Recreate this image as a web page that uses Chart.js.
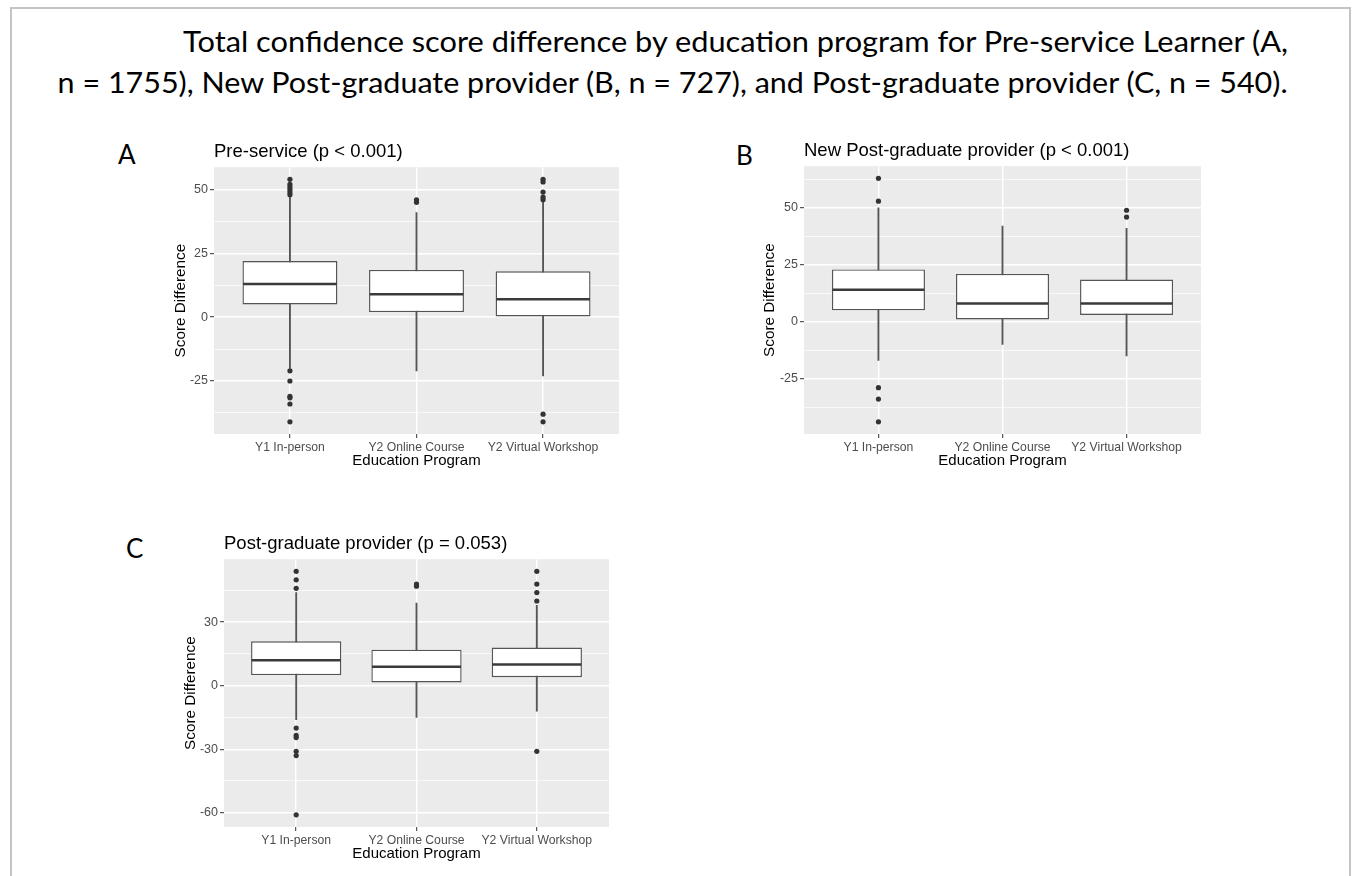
<!DOCTYPE html>
<html>
<head>
<meta charset="utf-8">
<script src="https://cdn.jsdelivr.net/npm/chart.js@4.4.1/dist/chart.umd.min.js"></script>
<style>
  body { margin: 0; width: 1352px; height: 876px; background: #fff; overflow: hidden; position: relative; }
  #frame { position: absolute; left: 10px; top: 7px; width: 1341px; height: 900px; border: 2px solid #c4c4c4; box-sizing: border-box; }
  #heading { position: absolute; right: 64px; top: 20px; text-align: right; font-family: Lato, sans-serif; font-size: 29.5px; line-height: 41px; color: #000; white-space: nowrap; }
  #heading span { display: inline-block; transform-origin: right top; }
  .tag { position: absolute; font-family: Lato, sans-serif; font-size: 26px; line-height: 26px; color: #000; }
  canvas { position: absolute; }
</style>
</head>
<body>
<div id="frame"></div>
<div id="heading">
  <div><span>Total confidence score difference by education program for Pre-service Learner (A,</span></div>
  <div><span>n = 1755), New Post-graduate provider (B, n = 727), and Post-graduate provider (C, n = 540).</span></div>
</div>
<div class="tag" style="left:118px; top:141px;">A</div>
<div class="tag" style="left:736px; top:142px;">B</div>
<div class="tag" style="left:126px; top:535px;">C</div>
<canvas id="chartA"></canvas>
<canvas id="chartB"></canvas>
<canvas id="chartC"></canvas>
<script>
// categories
const programs = ['Y1 In-person', 'Y2 Online Course', 'Y2 Virtual Workshop'];

// A: pre-service
const aLow = [-20, -21, -23];
const aQ1 = [5, 2, 0];
const aMedian = [13, 9, 7];
const aQ3 = [22, 18.5, 18];
const aHigh = [47, 41, 45];
const aOutliers = [
  [-41, -34, -31.6, -31, -25, -21, 48, 49, 50, 51, 52, 54],
  [45, 46],
  [-41, -38, 46, 47, 49, 53, 54]
];
const aTicks = [-25, 0, 25, 50];

// B: new post-graduate provider
const bLow = [-17, -10, -15];
const bQ1 = [5, 1, 3];
const bMedian = [14, 8, 8];
const bQ3 = [23, 21, 18.5];
const bHigh = [50, 42, 41];
const bOutliers = [
  [-44, -34, -29, 53, 63],
  [],
  [46, 49]
];
const bTicks = [-25, 0, 25, 50];

// C: post-graduate provider
const cLow = [-16, -15, -12];
const cQ1 = [5, 1.5, 4];
const cMedian = [12, 9, 10];
const cQ3 = [21, 17, 18];
const cHigh = [44, 39, 38];
const cOutliers = [
  [-61, -33, -31, -24.5, -23.5, -20, 46, 50, 54],
  [47, 48],
  [-31, 40, 44, 48, 54]
];
const cTicks = [-60, -30, 0, 30];

Chart.defaults.font.family = "'Liberation Sans', Arial, sans-serif";

const panelBg = {
  id: 'panelBg',
  beforeDraw(chart) {
    const { ctx, chartArea: a } = chart;
    ctx.save();
    ctx.fillStyle = '#EBEBEB';
    ctx.fillRect(a.left, a.top, a.width, a.height);
    ctx.restore();
  }
};

// median line across each box
const medians = {
  id: 'medians',
  afterDatasetsDraw(chart, args, opts) {
    const meta = chart.getDatasetMeta(1);
    const y = chart.scales.y;
    const ctx = chart.ctx;
    ctx.save();
    ctx.strokeStyle = '#3a3a3a';
    ctx.lineWidth = 2.5;
    meta.data.forEach((bar, i) => {
      const py = y.getPixelForValue(opts.values[i]);
      ctx.beginPath();
      ctx.moveTo(bar.x - bar.width / 2 + 0.6, py);
      ctx.lineTo(bar.x + bar.width / 2 - 0.6, py);
      ctx.stroke();
    });
    ctx.restore();
  }
};

function makePanel(id, title, area, low, q1, med, q3, high, outliers, major) {
  const axisW = area.axisW, titleH = 18.5 * 1.2 + 4, axisH = 36;
  const canvas = document.getElementById(id);
  const left = area.left - axisW, top = area.top - titleH;
  canvas.style.left = left + 'px';
  canvas.style.top = top + 'px';
  canvas.width = Math.round(area.right - left + 6);
  canvas.height = Math.round(area.bottom - top + axisH + 4);

  const all = low.concat(high, outliers.flat());
  const dMin = Math.min(...all), dMax = Math.max(...all);
  const pad = (dMax - dMin) * 0.05;
  const step = major[1] - major[0];
  const yVals = [];
  for (let v = major[0] - step * 2; v <= dMax + pad; v += step / 2) {
    if (v >= dMin - pad) yVals.push(v);
  }
  const isMajor = (v) => major.includes(v);

  const pts = [];
  outliers.forEach((list, i) => list.forEach(v => pts.push({ x: i + 1, y: v })));

  new Chart(canvas, {
    type: 'bar',
    data: {
      datasets: [
        {
          type: 'scatter',
          data: pts,
          pointRadius: 2.6,
          pointBackgroundColor: '#333333',
          pointBorderWidth: 0,
          order: 0
        },
        {
          data: q1.map((v, i) => ({ x: i + 1, y: [v, q3[i]] })),
          backgroundColor: '#ffffff',
          borderColor: '#555555',
          borderWidth: 1.4,
          borderSkipped: false,
          categoryPercentage: 1,
          barPercentage: 0.75,
          order: 1
        },
        {
          data: low.map((v, i) => ({ x: i + 1, y: [v, high[i]] })),
          backgroundColor: '#555555',
          borderWidth: 0,
          barThickness: 1.2,
          order: 2
        }
      ]
    },
    options: {
      responsive: false,
      animation: false,
      grouped: false,
      layout: { padding: { left: 0, top: 0, right: 6, bottom: 4 } },
      plugins: {
        legend: { display: false },
        tooltip: { enabled: false },
        medians: { values: med },
        title: {
          display: true,
          text: title,
          align: 'start',
          fullSize: false,
          color: '#000',
          font: { size: 18.5, weight: 'normal' },
          padding: { top: 0, bottom: 4 }
        }
      },
      scales: {
        x: {
          type: 'linear',
          min: 0.4,
          max: 3.6,
          offset: false,
          afterBuildTicks: (s) => { s.ticks = [1, 2, 3].map(v => ({ value: v })); },
          afterFit: (s) => { s.height = axisH; },
          grid: { offset: false, color: '#ffffff', lineWidth: 1.4, tickLength: 4, tickColor: '#333333', tickWidth: 1 },
          border: { display: false },
          ticks: {
            autoSkip: false, maxRotation: 0, padding: 2,
            color: '#4D4D4D', font: { size: 12.2 },
            callback: (v) => programs[v - 1]
          },
          title: { display: true, text: 'Education Program', color: '#000', font: { size: 15 }, padding: 0 }
        },
        y: {
          min: dMin - pad,
          max: dMax + pad,
          afterBuildTicks: (s) => { s.ticks = yVals.map(v => ({ value: v })); },
          afterFit: (s) => { s.width = axisW; },
          grid: {
            color: '#ffffff',
            lineWidth: (c) => isMajor(c.tick.value) ? 1.4 : 0.7,
            tickLength: 4,
            tickColor: (c) => isMajor(c.tick.value) ? '#333333' : 'rgba(0,0,0,0)',
            tickWidth: 1
          },
          border: { display: false },
          ticks: {
            autoSkip: false, padding: 2,
            color: '#4D4D4D', font: { size: 12.5 },
            callback: (v) => isMajor(v) ? String(v) : ''
          },
          title: { display: true, text: 'Score Difference', color: '#000', font: { size: 15.3 }, padding: 0 }
        }
      }
    },
    plugins: [panelBg, medians]
  });
}

makePanel('chartA', 'Pre-service (p < 0.001)', { left: 214, top: 167, right: 619, bottom: 434, axisW: 42 },
  aLow, aQ1, aMedian, aQ3, aHigh, aOutliers, aTicks);
makePanel('chartB', 'New Post-graduate provider (p < 0.001)', { left: 804, top: 166, right: 1201, bottom: 434, axisW: 43 },
  bLow, bQ1, bMedian, bQ3, bHigh, bOutliers, bTicks);
makePanel('chartC', 'Post-graduate provider (p = 0.053)', { left: 224, top: 559, right: 609, bottom: 827, axisW: 42 },
  cLow, cQ1, cMedian, cQ3, cHigh, cOutliers, cTicks);

// squeeze each heading line to the width it has in the original
const lines = document.querySelectorAll('#heading span');
[1105, 1230].forEach((w, i) => {
  const k = w / lines[i].getBoundingClientRect().width;
  lines[i].style.transform = 'scaleX(' + k + ')';
});
</script>
</body>
</html>
